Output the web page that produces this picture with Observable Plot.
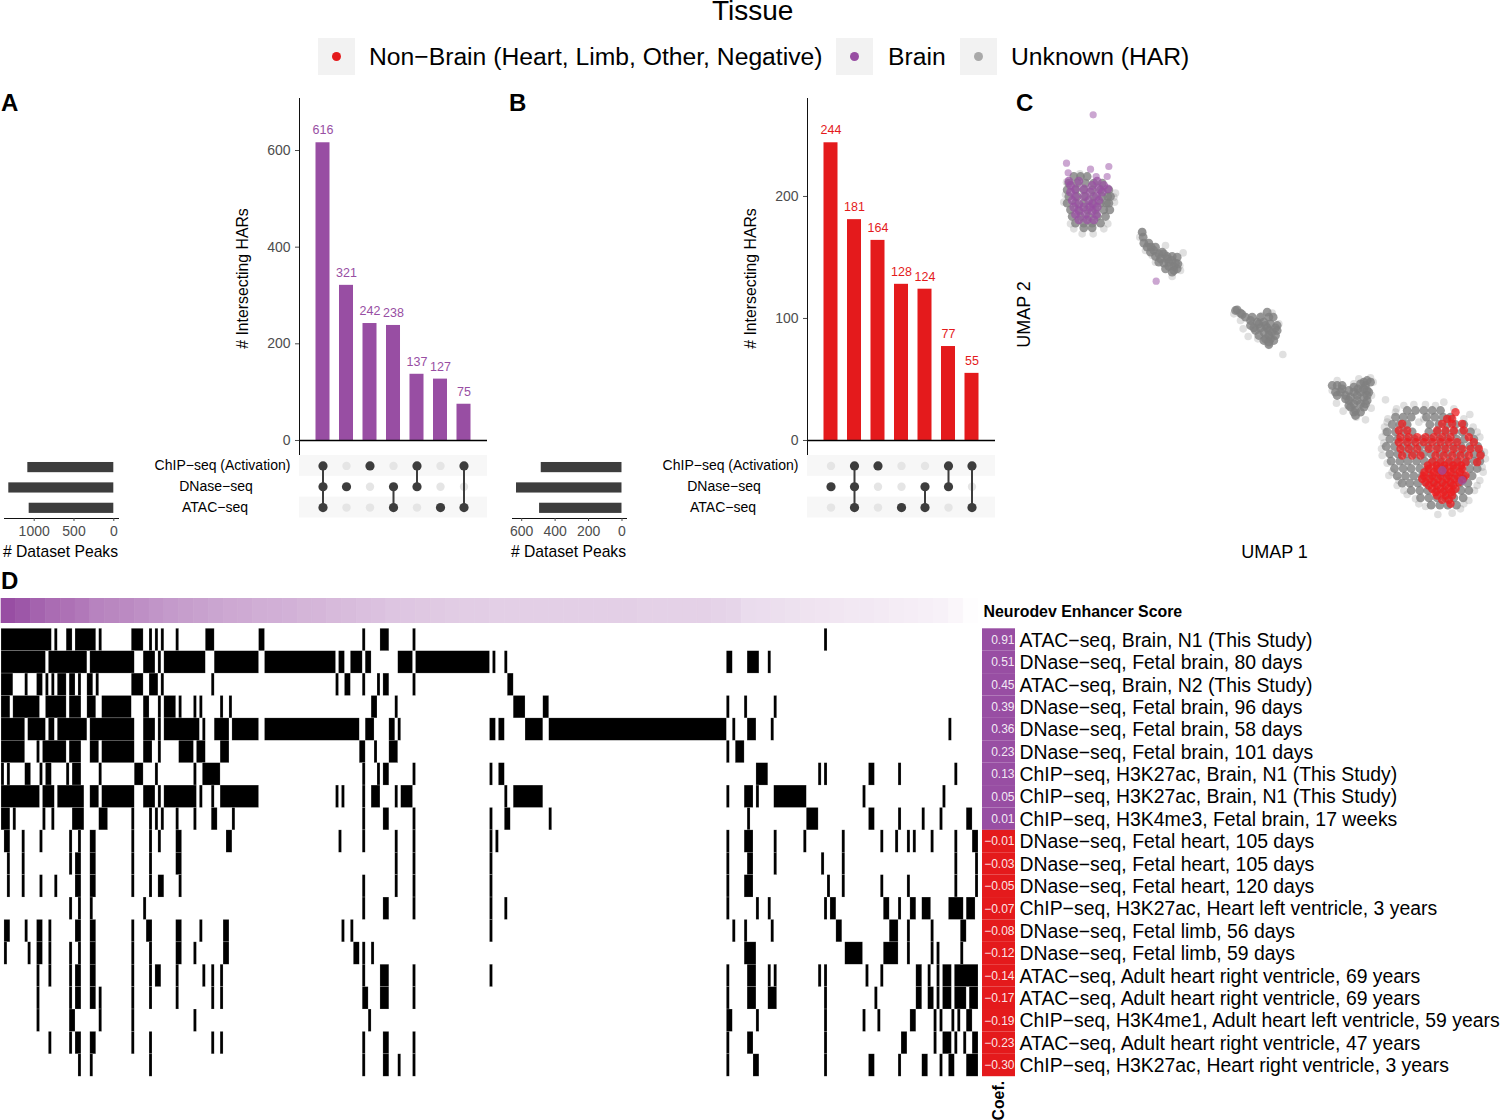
<!DOCTYPE html>
<html><head><meta charset="utf-8">
<script src="https://cdn.jsdelivr.net/npm/d3@7"></script>
<script src="https://cdn.jsdelivr.net/npm/@observablehq/plot@0.6"></script>
<style>
html,body{margin:0;background:#fff;font-family:"Liberation Sans",Arial,sans-serif}
#fig{position:relative;width:1500px;height:1120px;overflow:hidden}
.t{position:absolute;white-space:nowrap;line-height:1;color:#000}
.key{position:absolute;background:#f2f2f2;width:37px;height:37px;top:38px}
.key i{position:absolute;left:14px;top:14px;width:9px;height:9px;border-radius:50%}
</style></head><body><div id="fig"></div>
<script>
const PURPLE="#984ea3", RED="#e41a1c", DARK="#3d3d3d", GREYTXT="#4d4d4d", FONT='"Liberation Sans",Arial,sans-serif';

// ---------- upset data
const setNames=["ChIP\u2212seq (Activation)","DNase\u2212seq","ATAC\u2212seq"];
const setLabelShift=[0,-6.5,-7.5];
const brainCounts=[616,321,242,238,137,127,75];
const brainCombos=[[0,1,2],[1],[0],[1,2],[0,1],[2],[0,2]];
const brainSetSizes=[1080,1319,1063];
const brainTicks=[0,200,400,600];
const brainSizeTicks=[0,500,1000];
const otherCounts=[244,181,164,128,124,77,55];
const otherCombos=[[1],[0,1,2],[0],[2],[1,2],[0,1],[0,2]];
const otherSetSizes=[483,631,493];
const otherTicks=[0,100,200];
const otherSizeTicks=[0,200,400,600];

// ---------- heatmap data
const rowLabels=["ATAC\u2212seq, Brain, N1 (This Study)","DNase\u2212seq, Fetal brain, 80 days","ATAC\u2212seq, Brain, N2 (This Study)","DNase\u2212seq, Fetal brain, 96 days","DNase\u2212seq, Fetal brain, 58 days","DNase\u2212seq, Fetal brain, 101 days","ChIP\u2212seq, H3K27ac, Brain, N1 (This Study)","ChIP\u2212seq, H3K27ac, Brain, N1 (This Study)","ChIP\u2212seq, H3K4me3, Fetal brain, 17 weeks","DNase\u2212seq, Fetal heart, 105 days","DNase\u2212seq, Fetal heart, 105 days","DNase\u2212seq, Fetal heart, 120 days","ChIP\u2212seq, H3K27ac, Heart left ventricle, 3 years","DNase\u2212seq, Fetal limb, 56 days","DNase\u2212seq, Fetal limb, 59 days","ATAC\u2212seq, Adult heart right ventricle, 69 years","ATAC\u2212seq, Adult heart right ventricle, 69 years","ChIP\u2212seq, H3K4me1, Adult heart left ventricle, 59 years","ATAC\u2212seq, Adult heart right ventricle, 47 years","ChIP\u2212seq, H3K27ac, Heart right ventricle, 3 years"];
const coefs=[0.91,0.51,0.45,0.39,0.36,0.23,0.13,0.05,0.01,-0.01,-0.03,-0.05,-0.07,-0.08,-0.12,-0.14,-0.17,-0.19,-0.23,-0.30];
// black runs of columns, [first,end), for each row
const peakRuns=[
[[0,17],[18,19],[22,24],[25,32],[33,34],[44,48],[50,51],[52,53],[54,55],[59,60],[69,72],[87,89],[122,123],[128,131],[139,140],[278,279]],
[[0,15],[16,29],[30,45],[48,52],[53,54],[55,69],[72,87],[89,113],[114,116],[118,122],[123,125],[134,139],[140,165],[166,167],[170,171],[245,247],[252,256],[259,260]],
[[0,4],[8,9],[12,14],[15,16],[17,18],[19,22],[23,25],[26,27],[29,31],[32,33],[44,48],[50,53],[54,55],[71,72],[113,114],[116,118],[122,123],[127,128],[129,131],[139,140],[171,173]],
[[0,3],[4,13],[15,22],[23,27],[29,32],[34,44],[48,50],[53,54],[55,59],[60,61],[65,66],[67,68],[74,75],[77,78],[125,127],[133,134],[173,177],[183,185],[245,246],[251,252],[261,262]],
[[0,8],[9,15],[16,18],[19,29],[30,45],[48,52],[53,54],[55,67],[68,69],[72,77],[78,87],[89,121],[123,126],[131,133],[134,135],[165,167],[168,170],[177,183],[185,245],[247,248],[252,255],[260,261],[320,321]],
[[0,8],[12,13],[14,22],[23,27],[30,33],[34,45],[48,51],[53,54],[60,65],[66,69],[74,77],[121,123],[126,127],[131,134],[245,246],[248,251]],
[[0,1],[2,3],[8,10],[13,14],[15,17],[22,23],[24,27],[33,34],[45,48],[52,53],[65,66],[68,74],[122,123],[127,128],[129,131],[139,140],[165,166],[168,170],[255,259],[276,277],[278,279],[293,295],[303,304],[322,323]],
[[0,13],[14,18],[19,28],[30,33],[34,45],[48,52],[53,54],[55,66],[67,68],[71,72],[74,87],[113,114],[115,116],[122,123],[125,128],[133,134],[135,139],[170,171],[173,183],[245,246],[251,254],[255,256],[261,272],[291,292],[318,319]],
[[0,3],[4,5],[14,15],[17,18],[24,28],[33,36],[44,45],[50,51],[52,53],[54,55],[59,60],[65,66],[71,73],[78,79],[122,123],[129,131],[139,140],[165,166],[170,172],[185,186],[252,253],[272,276],[293,295],[303,304],[311,312],[317,318],[326,328]],
[[1,3],[7,8],[13,14],[23,24],[26,27],[30,32],[44,45],[50,51],[53,54],[59,61],[76,78],[114,115],[122,123],[133,134],[139,140],[165,166],[167,168],[245,246],[251,254],[261,262],[271,272],[284,285],[297,298],[302,303],[306,307],[308,309],[314,315],[322,323],[328,330]],
[[2,3],[7,8],[23,24],[25,27],[30,32],[44,45],[50,51],[59,61],[133,134],[139,140],[165,166],[245,246],[252,254],[261,262],[277,278],[284,285],[322,323],[329,330]],
[[2,3],[7,8],[13,14],[18,19],[25,27],[30,32],[44,45],[50,51],[53,55],[60,61],[122,123],[133,134],[139,140],[165,166],[245,246],[251,254],[279,280],[284,285],[297,298],[306,307],[322,323],[329,330]],
[[23,24],[26,27],[30,31],[48,49],[122,123],[129,131],[139,140],[165,166],[170,171],[245,246],[255,256],[259,260],[278,279],[280,282],[298,300],[303,304],[307,309],[311,314],[320,325],[326,329]],
[[1,3],[8,9],[12,14],[16,17],[25,27],[30,32],[44,45],[49,51],[59,61],[67,68],[75,77],[115,116],[118,119],[165,166],[247,248],[251,252],[260,261],[282,284],[300,303],[306,307],[314,315],[324,326]],
[[1,2],[9,10],[12,14],[16,17],[23,24],[26,27],[30,32],[44,45],[50,51],[59,61],[65,66],[75,77],[119,121],[122,123],[125,126],[251,255],[285,291],[298,303],[306,307],[314,315],[316,317],[324,325]],
[[12,13],[16,17],[23,24],[25,27],[30,32],[44,45],[50,51],[52,54],[59,60],[68,69],[71,72],[74,75],[122,123],[128,131],[139,140],[165,166],[245,246],[252,255],[259,260],[261,262],[276,277],[278,279],[292,293],[297,298],[309,311],[313,314],[316,317],[318,321],[322,330]],
[[12,13],[23,24],[25,27],[30,32],[33,34],[44,45],[50,51],[59,60],[71,72],[74,75],[122,124],[128,131],[139,140],[245,246],[252,255],[259,262],[278,279],[295,296],[309,311],[313,315],[316,317],[318,321],[322,326],[327,330]],
[[12,13],[23,25],[33,34],[44,45],[65,66],[124,125],[245,247],[255,256],[278,279],[291,292],[296,297],[307,309],[315,316],[317,318],[321,322],[323,324],[326,328]],
[[16,17],[23,24],[25,27],[30,32],[44,45],[50,51],[71,72],[74,75],[122,123],[129,131],[139,140],[245,246],[252,254],[278,279],[304,306],[315,316],[318,321],[322,323],[325,326],[328,330]],
[[26,27],[30,31],[50,51],[122,123],[129,131],[134,135],[139,140],[245,246],[254,256],[278,279],[293,295],[303,304],[311,313],[317,318],[320,322],[326,330]]
];
// neurodev enhancer score shown above the heatmap, one value per 5 columns
const scoreStrip=[1,.95,.88,.83,.8,.76,.7,.68,.66,.63,.6,.57,.55,.53,.51,.49,.48,.46,.45,.44,.42,.41,.39,.38,.36,.35,.33,.32,.31,.3,.29,.28,.28,.27,.27,.27,.27,.27,.27,.27,.27,.27,.27,.26,.26,.26,.26,.26,.25,.24,.2,.19,.18,.17,.16,.15,.14,.13,.13,.12,.11,.1,.09,.08,.05,.01];

// ---------- UMAP data, [umap2, [umap1...]] rows
const umapGrayLoose=[
[250,[178]],[275,[138]],[308,[285]],[320,[280]],[312,[135]],[415,[160,250]],[430,[185,218]],[400,[150,262]],[335,[130,282]],
[423,[365]],[487,[488]],[465,[435]],[480,[375]],[515,[405]],[540,[480]],[558,[455]],[440,[358]],[495,[395]],[525,[478]],
[670,[640]],[668,[755]],[675,[725]],[738,[683]],[715,[668]],[745,[712]],[792,[787]],[765,[745]],[690,[660]],[700,[775]],
[865,[1015]],[862,[1050]],[875,[1058]],[938,[948]],[962,[968]],[980,[1007]],[988,[1035]],[953,[1052]],[928,[1095]],[915,[1053]],[900,[935]],[870,[950]],[880,[1000]],
[935,[1270]],[945,[1150,1245]],[942,[1180,1215]],[955,[1300,1128]],[972,[1348]],[985,[1330,1102]],[965,[1125]],[995,[1100,1195]],[985,[1210]],[1010,[1092,1358]],[1025,[1095,1370]],[1040,[1085,1378]],[1058,[1090]],[1075,[1083]],[1095,[1085]],[1085,[1392]],[1105,[1395]],[1118,[1100]],[1130,[1385]],[1145,[1115,1388]],[1155,[1105]],[1170,[1135,1378]],[1185,[1130,1370]],[1200,[1362,1150]],[1212,[1160]],[1225,[1185]],[1230,[1345]],[1248,[1215]],[1255,[1320]],[1268,[1295]],[1272,[1252]],[1240,[1195,1330]]
];
const umapGrayDense=[
[258,[160,180,200]],[278,[145,170,195,220,245]],[298,[140,165,190,215,240,265]],[318,[145,170,195,220,245,262,270]],[338,[140,165,190,215,240,258,265]],[358,[150,175,200,225,250,268]],[378,[155,180,205,230,255]],[398,[165,190,215,240]],[412,[190,215]],
[425,[365]],[440,[368]],[458,[370,385]],[470,[392,380,405]],[480,[400]],[485,[390,425]],[490,[415,430]],[498,[405,440,455]],[505,[420,440]],[500,[470]],[510,[455]],[515,[445,415]],[518,[465,430]],[528,[445,460]],[520,[472]],[535,[435,470]],[540,[460]],[545,[455]],
[658,[650]],[660,[645]],[668,[660]],[672,[665]],[680,[675,695,720,745,758]],[690,[690]],[695,[710,730]],[700,[750,715]],[705,[690,735,770]],[712,[700,765,740,720]],[720,[705,745,770]],[725,[755,730]],[735,[715,745,765]],[745,[735,750]],[750,[730,760]],[755,[745]],[762,[745]],[665,[740]],
[875,[1030,1050]],[885,[950,1035,965,935]],[905,[945,960,1000,1020,1045]],[895,[965,1030,1012]],[900,[985,1040]],[890,[1000]],[880,[1020]],[870,[1040]],[915,[1010,950,975,1040]],[920,[990,1030]],[925,[975]],[930,[985,1010,1040]],[940,[1000,1020,1035]],[945,[985]],[950,[990,1030]],[960,[1005]],[965,[1000,1020]],[975,[1005]],
[960,[1160,1185,1210,1235,1260]],
[980,[1125,1148,1172,1218,1243,1268,1290]],
[1002,[1115,1138,1160,1228,1255,1280,1305,1330]],
[1024,[1100,1125,1150,1175,1225,1250,1275,1300,1325,1350]],
[1046,[1108,1132,1158,1182,1208,1232,1258,1282,1308,1332,1360]],
[1068,[1097,1122,1148,1172,1198,1222,1248,1272,1298,1322,1348,1372]],
[1090,[1108,1132,1158,1182,1208,1232,1258,1282,1308,1332,1360,1380]],
[1112,[1112,1138,1162,1188,1212,1238,1262,1288,1312,1338,1362,1378]],
[1134,[1122,1148,1172,1198,1222,1248,1272,1298,1322,1348,1370]],
[1156,[1130,1155,1180,1205,1230,1255,1280,1305,1330,1355]],
[1178,[1145,1168,1192,1218,1242,1268,1292,1318,1342]],
[1200,[1172,1198,1222,1248,1272,1298,1322,1345]],
[1222,[1200,1225,1250,1275,1300,1328]],
[1244,[1232,1258,1282,1308]]
];
const umapRed=[
[965,[1305]],[985,[1295,1280]],[1000,[1145,1265,1295,1325]],[1020,[1135,1160,1250,1275,1300,1330]],
[1040,[1140,1165,1190,1215,1240,1265,1290,1345]],[1055,[1135,1160,1185,1210,1235,1260,1285,1310,1360]],
[1075,[1140,1165,1190,1225,1250,1275,1300,1325,1350,1375]],[1095,[1145,1175,1200,1245,1270,1295,1320,1345,1380]],
[1115,[1235,1260,1285,1310,1335,1370]],[1125,[1222,1248,1272,1298,1322]],[1135,[1225,1250,1275,1300,1325]],[1145,[1212,1240,1265,1290,1318]],[1155,[1210,1235,1260,1285,1310,1335]],
[1165,[1205,1228,1252,1278,1302,1328]],[1175,[1215,1240,1265,1290,1315]],[1185,[1225,1250,1275,1298]],[1195,[1235,1260,1285,1305]],[1205,[1245,1268,1292]],[1215,[1250,1275,1295]],[1228,[1265,1285]],[1240,[1290]]
];
const umapPurpleLoose=[[73,[218]],[218,[138]],[228,[265]],[236,[210]],[247,[143]],[258,[227,260]],[572,[407]]];
const umapPurpleDense=[[272,[145,230,175]],[285,[150,215,250]],[295,[165,190,235,262]],[305,[150,210,245]],[318,[165,190,228]],[330,[155,205,235]],[340,[175,218]],[350,[160,190,208,230]],[362,[175,215]],[372,[165,195,228]],[388,[175,200,220]],[1140,[1265]],[1170,[1325]]];
const flat=r=>r.flatMap(([v,us])=>us.map(u=>({u,v})));

// ---------- helpers
const fig=document.getElementById("fig");
function put(svg,left,top){svg.style.position="absolute";svg.style.left=left+"px";svg.style.top=top+"px";svg.style.background="transparent";svg.style.fontFamily=FONT;fig.append(svg);}
function label(text,css){const d=document.createElement("div");d.className="t";d.textContent=text;Object.assign(d.style,css);fig.append(d);return d;}
const base={style:{fontFamily:FONT,background:"transparent"}};

// ---------- title and legend
label("Tissue",{left:"712px",top:"0px",fontSize:"28px",lineHeight:".8"});
[[318,RED,"Non\u2212Brain (Heart, Limb, Other, Negative)",369],[836,PURPLE,"Brain",888],[959.5,"#a9a9a9","Unknown (HAR)",1011]].forEach(([x,c,s,tx])=>{
  const k=document.createElement("div");k.className="key";k.style.left=x+"px";const i=document.createElement("i");i.style.background=c;k.append(i);fig.append(k);
  label(s,{left:tx+"px",top:"45px",fontSize:"24.7px"});
});
[["A",1,91],["B",509,91],["C",1016,91],["D",1,569]].forEach(([s,x,y])=>label(s,{left:x+"px",top:y+"px",fontSize:"24px",fontWeight:"bold"}));

// ---------- upset panels
function upset(ox,counts,combos,sizes,ticks,sizeTicks,color,yTop,yBelow,sizeDomain){
  const cols=d3.range(7), bars=counts.map((n,i)=>({i,n}));
  const x={type:"band",domain:cols,round:false,paddingInner:.404,paddingOuter:.702,axis:null};
  put(Plot.plot({...base,width:260,height:360,marginLeft:69,marginRight:3,marginTop:3,marginBottom:1,x,
    y:{domain:[yBelow,yTop],axis:null},
    marks:[
      Plot.barY(bars,{x:"i",y:"n",fill:color}),
      Plot.ruleY([0],{stroke:"#000",strokeWidth:1.4}),
      Plot.frame({anchor:"left",stroke:"#111"}),
      Plot.axisY({anchor:"left",ticks,tickSize:4,tickPadding:5,fontSize:14,color:GREYTXT,label:null}),
      Plot.text(bars,{x:"i",y:"n",text:d=>String(d.n),dy:-12.5,fill:color,fontSize:12.5}),
      Plot.text(["# Intersecting HARs"],{frameAnchor:"top-left",lineAnchor:"middle",dx:-57,dy:180,rotate:-90,textAnchor:"middle",fontSize:15.8,fill:"#000"})
    ]}),ox+230,95);
  const off=[],on=[];
  cols.forEach(c=>setNames.forEach((s,k)=>(combos[c].includes(k)?on:off).push({c,s})));
  put(Plot.plot({...base,width:350,height:75,marginLeft:159,marginRight:3,marginTop:5,marginBottom:7.5,x,
    y:{type:"band",domain:setNames,round:false,padding:0,axis:null},
    marks:[
      Plot.cell([setNames[0],setNames[2]],{y:d=>d,fill:"#f7f7f7"}),
      Plot.dot(off,{x:"c",y:"s",r:4.2,fill:"#e5e5e5"}),
      Plot.line(on,{x:"c",y:"s",z:"c",stroke:DARK,strokeWidth:2}),
      Plot.dot(on,{x:"c",y:"s",r:4.6,fill:DARK}),
      ...setNames.map((s,k)=>Plot.text([s],{y:d=>d,frameAnchor:"left",dx:-77+setLabelShift[k],textAnchor:"middle",fontSize:14,fill:"#000"}))
    ]}),ox+140,450);
  const sz=setNames.map((s,k)=>({s,v:sizes[k]}));
  put(Plot.plot({...base,width:130,height:115,marginLeft:4,marginRight:12,marginTop:6.9,marginBottom:47,
    x:{domain:sizeDomain,axis:null},
    y:{type:"band",domain:setNames,round:false,paddingInner:.5,paddingOuter:.25,axis:null},
    marks:[
      Plot.barX(sz,{x1:0,x2:"v",y:"s",fill:DARK}),
      Plot.frame({anchor:"bottom",stroke:"#111"}),
      Plot.axisX({anchor:"bottom",ticks:sizeTicks,tickFormat:d=>String(d),tickSize:3,tickPadding:5,fontSize:14,color:GREYTXT,label:null}),
      Plot.text(["# Dataset Peaks"],{frameAnchor:"bottom-left",lineAnchor:"middle",dx:56,dy:33,textAnchor:"middle",fontSize:15.7,fill:"#000"})
    ]}),ox,450);
}
upset(0,brainCounts,brainCombos,brainSetSizes,brainTicks,brainSizeTicks,PURPLE,707.6,-29,[1373,-59]);
upset(508,otherCounts,otherCombos,otherSetSizes,otherTicks,otherSizeTicks,RED,280.3,-11.5,[655,-27]);

// ---------- UMAP
put(Plot.plot({...base,width:500,height:480,margin:0,marginBottom:40,x:{domain:[-60,1440],axis:null},y:{domain:[0,1320],reverse:true,axis:null},
  marks:[
    Plot.dot(flat(umapGrayLoose),{x:"u",y:"v",r:3.8,fill:"#7f7f7f",fillOpacity:.24}),
    Plot.dot(flat(umapGrayDense),{x:"u",y:"v",r:4.4,fill:"#7f7f7f",fillOpacity:.8}),
    Plot.dot(flat(umapRed),{x:"u",y:"v",r:4.2,fill:"#ee1c1f",fillOpacity:.75}),
    Plot.dot(flat(umapPurpleLoose),{x:"u",y:"v",r:3.6,fill:PURPLE,fillOpacity:.5}),
    Plot.dot(flat(umapPurpleDense),{x:"u",y:"v",r:4.4,fill:PURPLE,fillOpacity:.7}),
    Plot.text(["UMAP 2"],{frameAnchor:"top-left",lineAnchor:"middle",dx:24,dy:224,rotate:-90,textAnchor:"middle",fontSize:18,fill:"#000"}),
    Plot.text(["UMAP 1"],{frameAnchor:"top-left",lineAnchor:"middle",dx:274,dy:462,textAnchor:"middle",fontSize:18,fill:"#000"})
  ]}),1000,90);
// ---------- score strip
put(Plot.plot({...base,width:980,height:25,margin:0,marginLeft:1,marginRight:2,
  x:{domain:[0,330],axis:null},color:{type:"linear",domain:[0,1],range:["#ffffff",PURPLE]},
  marks:[Plot.rectY(scoreStrip.map((v,i)=>({v,i})),{x1:d=>d.i*5,x2:d=>d.i*5+5,y1:0,y2:1,fill:"v",stroke:"v",strokeWidth:.6})],
  y:{domain:[0,1],axis:null}}),0,598);

// ---------- heatmap
const runs=peakRuns.flatMap((r,row)=>r.map(([a,b])=>({row,a,b})));
const rows=d3.range(rowLabels.length);
put(Plot.plot({...base,width:980,height:455,marginLeft:1,marginRight:2,marginTop:3.3,marginBottom:3.8,
  x:{domain:[0,330],axis:null},y:{type:"band",domain:rows,round:false,padding:0,axis:null},
  marks:[Plot.barX(runs,{x1:"a",x2:"b",y:"row",fill:"#000",stroke:"#fff",strokeOpacity:.35,strokeWidth:.5})]}),0,625);

// ---------- coefficients and row labels
const coefRows=rows.map(i=>({i,c:coefs[i],l:rowLabels[i]}));
const fmt=c=>(c<0?"\u2212":"")+Math.abs(c).toFixed(2);
put(Plot.plot({...base,width:520,height:520,marginLeft:2,marginRight:485,marginTop:28.3,marginBottom:43.8,
  x:{domain:[0,1],axis:null},y:{type:"band",domain:rows,round:false,padding:0,axis:null},
  marks:[
    Plot.barX(coefRows.filter(d=>d.c>=0),{x1:0,x2:1,y:"i",fill:PURPLE}),
    Plot.barX(coefRows.filter(d=>d.c<0),{x1:0,x2:1,y:"i",fill:RED}),
    Plot.text(coefRows,{x:1,y:"i",text:d=>fmt(d.c),textAnchor:"end",dx:-1,fill:"#fff",fillOpacity:.9,fontSize:12}),
    Plot.text(coefRows,{x:1,y:"i",text:"l",textAnchor:"start",dx:4,dy:.5,fill:"#000",fontSize:19.4}),
    Plot.text(["Neurodev Enhancer Score"],{frameAnchor:"top-left",lineAnchor:"middle",dx:1,dy:-17,textAnchor:"start",fontSize:15.9,fontWeight:"bold",fill:"#000"}),
    Plot.text(["Coef."],{frameAnchor:"bottom-left",lineAnchor:"middle",dx:16,dy:24,rotate:-90,textAnchor:"middle",fontSize:15.8,fontWeight:"bold",fill:"#000"})
  ]}),980,600);
</script></body></html>
